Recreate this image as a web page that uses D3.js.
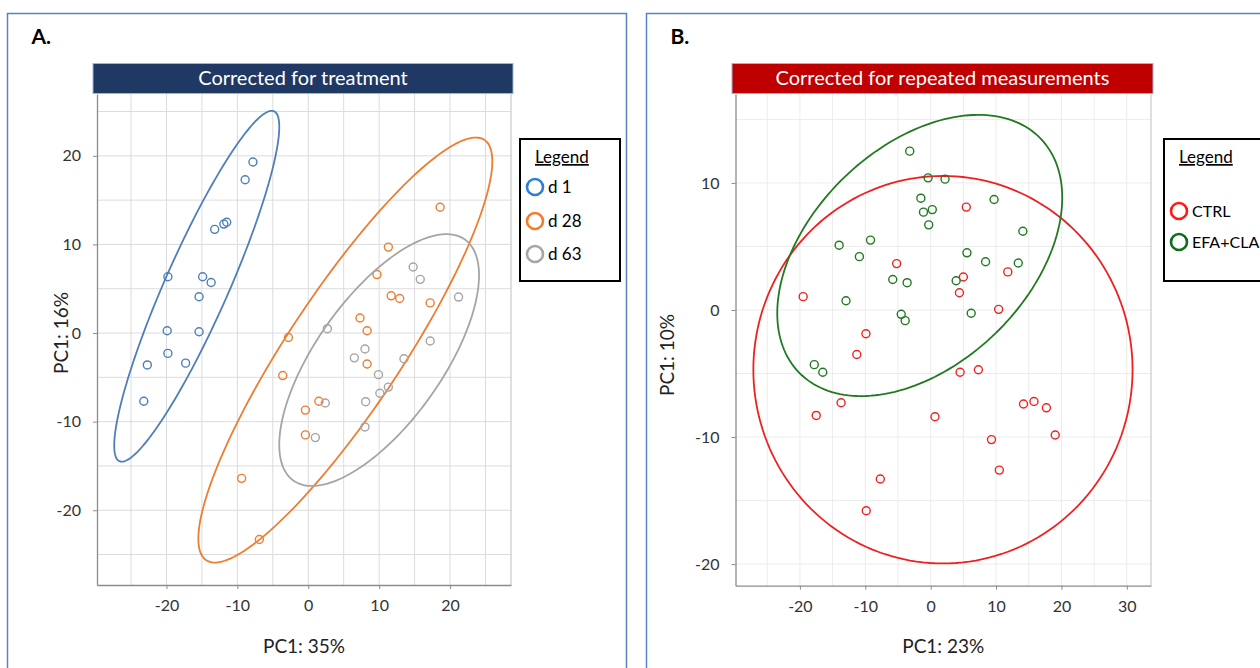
<!DOCTYPE html>
<meta charset="utf-8">
<style>
body { margin: 0; background: #fff; }
svg { font-family: Lato, "Open Sans", sans-serif; }
.tick text { font-size: 16px; fill: #333; }
</style>
<body>
<script src="https://d3js.org/d3.v7.min.js"></script>
<script>
// ---- panel A: corrected for treatment ----
var groupsA = ["d 1", "d 28", "d 63"];
var d1X = [-7.8, -8.9, -13.2, -11.9, -11.5, -19.8, -14.9, -13.7, -15.4, -19.9, -15.4, -19.8, -22.7, -17.3, -23.2];
var d1Y = [19.3, 17.3, 11.7, 12.3, 12.5, 6.35, 6.35, 5.7, 4.1, 0.26, 0.15, -2.3, -3.6, -3.4, -7.7];
var d28X = [18.6, 11.3, 9.7, 11.7, 12.9, 17.2, -2.8, 7.3, 8.3, -3.6, 8.3, 1.5, -0.4, -0.4, -9.4, -6.9];
var d28Y = [14.2, 9.7, 6.6, 4.2, 3.9, 3.4, -0.5, 1.7, 0.26, -4.8, -3.5, -7.7, -8.7, -11.5, -16.4, -23.3];
var d63X = [14.8, 15.8, 21.2, 2.7, 17.2, 8.0, 6.5, 13.5, 9.9, 11.3, 10.1, 2.4, 8.1, 8.0, 1.0];
var d63Y = [7.45, 6.06, 4.06, 0.49, -0.9, -1.8, -2.8, -2.9, -4.7, -6.1, -6.8, -7.9, -7.75, -10.6, -11.8];
// ellipse: centre x, centre y, first half-axis (x,y), second half-axis (x,y), data units
var ellD1 = [-15.73, 5.28, 10.9, 19.75, 4.09, -1.44];
var ellD28 = [5.23, -1.92, 19.62, 23.72, 6.7, -3.56];
var ellD63 = [10.0, -3.05, 12.1, 13.6, 7.22, -4.12];
var ticksAx = [-20, -10, 0, 10, 20];
var ticksAy = [-20, -10, 0, 10, 20];

// ---- panel B: corrected for repeated measurements ----
var groupsB = ["CTRL", "EFA+CLA"];
var ctrlX = [5.45, -5.2, 5.0, 11.8, -19.5, 4.4, 10.4, -9.9, -11.3, 4.5, 7.3, -13.7, -17.5, 0.66, 14.2, 15.8, 17.7, 19.05, 9.3, 10.5, -7.7, -9.85];
var ctrlY = [8.1, 3.65, 2.6, 3.0, 1.05, 1.36, 0.05, -1.87, -3.5, -4.9, -4.7, -7.3, -8.3, -8.4, -7.4, -7.2, -7.7, -9.84, -10.2, -12.6, -13.3, -15.8];
var efaX = [-3.2, -0.4, 2.2, -1.5, 0.25, -1.1, -0.3, 9.7, 14.1, -14.0, -9.2, -10.9, 5.55, 8.4, 13.4, -5.8, -3.6, 3.9, -12.95, 6.2, -4.5, -3.9, -17.8, -16.5];
var efaY = [12.5, 10.4, 10.3, 8.8, 7.9, 7.7, 6.7, 8.7, 6.2, 5.1, 5.5, 4.2, 4.5, 3.8, 3.7, 2.4, 2.15, 2.3, 0.73, -0.26, -0.34, -0.84, -4.3, -4.9];
var ellCtrl = [1.88, -4.7, 29.0, 0, 0, 15.25];
var ellEfa = [-1.67, 4.29, 18.49, 9.2, 11.54, -6.15];
var ticksBx = [-20, -10, 0, 10, 20, 30];
var ticksBy = [-20, -10, 0, 10];

var svg = d3.select("body").append("svg")
    .attr("width", 1260)
    .attr("height", 668);

function zip(xs, ys) { return xs.map(function(v, i) { return [v, ys[i]]; }); }

function drawPanel(o) {
  var g = svg.append("g");
  g.append("rect")
      .attr("x", o.frame[0]).attr("y", 13.5)
      .attr("width", o.frame[1]).attr("height", 700)
      .attr("fill", "#fff").attr("stroke", "#5a84bd").attr("stroke-width", 1.5);
  g.append("text")
      .attr("x", o.frame[0] + 24).attr("y", 44)
      .attr("font-size", 21).attr("font-weight", "bold").attr("fill", "#000")
      .text(o.letter);

  var x = d3.scaleLinear().domain(o.xDomain).range([o.left, o.right]);
  var y = d3.scaleLinear().domain(o.yDomain).range([o.bottom, o.top]);

  var gx = d3.range(-50, 55, 5).filter(function(v) { return v > o.xDomain[0] && v < o.xDomain[1]; });
  var gy = d3.range(-50, 55, 5).filter(function(v) { return v > o.yDomain[0] && v < o.yDomain[1]; });
  g.append("g").selectAll("line").data(gx).join("line")
      .attr("x1", x).attr("x2", x).attr("y1", o.top).attr("y2", o.bottom)
      .attr("stroke", o.grid);
  g.append("g").selectAll("line").data(gy).join("line")
      .attr("y1", y).attr("y2", y).attr("x1", o.left).attr("x2", o.right)
      .attr("stroke", o.grid);
  g.append("line")
      .attr("x1", o.right).attr("x2", o.right).attr("y1", o.top).attr("y2", o.bottom)
      .attr("stroke", "#bfbfbf");

  var ax = g.append("g")
      .attr("transform", "translate(0," + o.bottom + ")")
      .call(d3.axisBottom(x).tickValues(o.ticksX).tickSize(4).tickSizeOuter(0).tickPadding(11)
        .tickFormat(function(d) { return String(d); }));
  var ay = g.append("g")
      .attr("transform", "translate(" + o.left + ",0)")
      .call(d3.axisLeft(y).tickValues(o.ticksY).tickSize(4).tickSizeOuter(0).tickPadding(12)
        .tickFormat(function(d) { return String(d); }));
  [ax, ay].forEach(function(a) {
    a.select(".domain").attr("stroke", "#8c8c8c").attr("stroke-width", 1.3);
    a.selectAll(".tick line").attr("stroke", "#8c8c8c");
    a.selectAll(".tick text").attr("font-family", "Lato, sans-serif");
  });

  // title bar
  g.append("rect")
      .attr("x", o.bar[0]).attr("y", 63.5).attr("width", o.bar[1]).attr("height", 30)
      .attr("fill", o.barColor).attr("stroke", "#9db5db").attr("stroke-width", 1);
  g.append("text")
      .attr("x", o.bar[0] + o.bar[1] / 2).attr("y", 85)
      .attr("text-anchor", "middle").attr("font-size", 20).attr("fill", "#fff")
      .text(o.title);

  g.append("text")
      .attr("x", (o.left + o.right) / 2).attr("y", 653)
      .attr("text-anchor", "middle").attr("font-size", 19).attr("fill", "#222")
      .text(o.xLabel);
  g.append("text")
      .attr("transform", "translate(" + o.yLabelX + "," + o.yLabelY + ")rotate(-90)")
      .attr("text-anchor", "middle").attr("font-size", 19).attr("fill", "#222")
      .text(o.yLabel);

  var line = d3.line().curve(d3.curveLinearClosed);
  o.series.forEach(function(s) {
    var e = s.ell;
    var pts = d3.range(0, 2 * Math.PI, Math.PI / 90).map(function(t) {
      return [x(e[0] + e[2] * Math.cos(t) + e[4] * Math.sin(t)),
              y(e[1] + e[3] * Math.cos(t) + e[5] * Math.sin(t))];
    });
    g.append("path").attr("d", line(pts))
        .attr("fill", "none").attr("stroke", s.color).attr("stroke-width", 1.8);
    g.append("g").selectAll("circle").data(s.points).join("circle")
        .attr("cx", function(d) { return x(d[0]); })
        .attr("cy", function(d) { return y(d[1]); })
        .attr("r", 4)
        .attr("fill", "none").attr("stroke", s.color).attr("stroke-width", 1.4);
  });

  // legend
  var lg = g.append("g");
  lg.append("rect")
      .attr("x", o.legend[0]).attr("y", 139).attr("width", o.legend[1]).attr("height", 142)
      .attr("fill", "#fff").attr("stroke", "#000").attr("stroke-width", 2);
  lg.append("text")
      .attr("x", o.legend[0] + 15).attr("y", 163)
      .attr("font-size", 17).attr("fill", "#000")
      .attr("text-decoration", "underline")
      .text("Legend");
  o.series.forEach(function(s, i) {
    var cy = o.legendY[i];
    lg.append("circle")
        .attr("cx", o.legend[0] + 15).attr("cy", cy).attr("r", 8)
        .attr("fill", "none").attr("stroke", s.legendColor).attr("stroke-width", 2.6);
    lg.append("text")
        .attr("x", o.legend[0] + 28).attr("y", cy + 6)
        .attr("font-size", o.legendSize).attr("fill", "#000")
        .text(s.name);
  });
}

drawPanel({
  letter: "A.", frame: [7.5, 619], bar: [93, 420], barColor: "#1f3864",
  title: "Corrected for treatment",
  xDomain: [-29.8, 28.6], yDomain: [-28.44, 26.98],
  left: 97, right: 511, top: 94, bottom: 585,
  ticksX: ticksAx, ticksY: ticksAy, grid: "#dcdcdc",
  xLabel: "PC1: 35%", yLabel: "PC1: 16%", yLabelX: 68, yLabelY: 333,
  legend: [520, 100], legendY: [187, 221, 254], legendSize: 17,
  series: [
    { name: groupsA[0], points: zip(d1X, d1Y), ell: ellD1, color: "#4f7fb8", legendColor: "#2f80d0" },
    { name: groupsA[1], points: zip(d28X, d28Y), ell: ellD28, color: "#ed7d31", legendColor: "#f47c2e" },
    { name: groupsA[2], points: zip(d63X, d63Y), ell: ellD63, color: "#a5a5a5", legendColor: "#a6a6a6" }
  ]
});

drawPanel({
  letter: "B.", frame: [646.5, 700], bar: [732, 421], barColor: "#c00000",
  title: "Corrected for repeated measurements",
  xDomain: [-29.85, 33.7], yDomain: [-21.7, 17.0],
  left: 735.5, right: 1151, top: 94, bottom: 585.7,
  ticksX: ticksBx, ticksY: ticksBy, grid: "#ececec",
  xLabel: "PC1: 23%", yLabel: "PC1: 10%", yLabelX: 674, yLabelY: 355,
  legend: [1164, 120], legendY: [211, 242], legendSize: 16,
  series: [
    { name: groupsB[0], points: zip(ctrlX, ctrlY), ell: ellCtrl, color: "#f02020", legendColor: "#ff1a1a" },
    { name: groupsB[1], points: zip(efaX, efaY), ell: ellEfa, color: "#217a21", legendColor: "#0f6e1a" }
  ]
});
</script>
</body>
